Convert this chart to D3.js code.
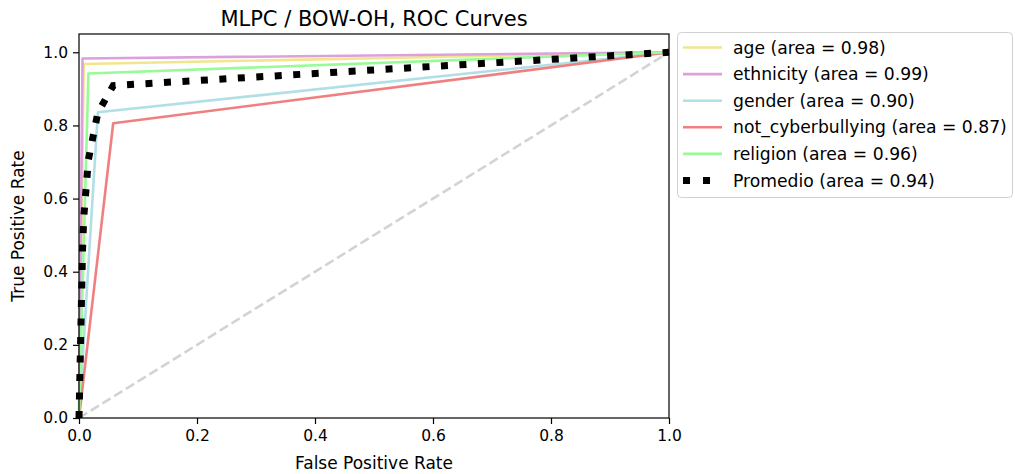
<!DOCTYPE html>
<html>
<head>
<meta charset="utf-8">
<script src="https://cdn.jsdelivr.net/npm/d3@7"></script>
<style>
  html, body { margin: 0; padding: 0; background: #fff; }
  text { font-family: "DejaVu Sans", sans-serif; fill: #000; }
</style>
</head>
<body>
<svg id="chart" width="1015" height="474"></svg>
<script>
// ROC operating points per class: [fpr, tpr] from (0,0) to (1,1)
const classNames = ["age", "ethnicity", "gender", "not_cyberbullying", "religion"];
const classAuc = [0.98, 0.99, 0.90, 0.87, 0.96];
const classColors = ["#f0e68c", "#dda0dd", "#b0e0e6", "#f08080", "#98fb98"];
const rocAge = [[0, 0], [0.008, 0.968], [1, 1]];
const rocEthnicity = [[0, 0], [0.006, 0.983], [1, 1]];
const rocGender = [[0, 0], [0.032, 0.836], [1, 1]];
const rocNotCyber = [[0, 0], [0.058, 0.806], [1, 1]];
const rocReligion = [[0, 0], [0.016, 0.942], [1, 1]];
// macro-average curve
const rocMean = [[0, 0], [0.006, 0.46], [0.008, 0.548], [0.016, 0.707], [0.032, 0.835], [0.058, 0.909], [1, 1]];
const meanLabel = "Promedio";
const meanAuc = 0.94;
const xTicks = [0, 0.2, 0.4, 0.6, 0.8, 1.0];
const yTicks = [0, 0.2, 0.4, 0.6, 0.8, 1.0];

const curves = [rocAge, rocEthnicity, rocGender, rocNotCyber, rocReligion];

const svg = d3.select("#chart");
const m = { left: 79, right: 669, top: 34, bottom: 418 };

const x = d3.scaleLinear().domain([0, 1]).range([m.left, m.right]);
const y = d3.scaleLinear().domain([0, 1.05]).range([m.bottom, m.top]);

const line = d3.line().x(d => x(d[0])).y(d => y(d[1]));

const plot = svg.append("g");

// per-class curves
curves.forEach((c, i) => {
  plot.append("path")
    .attr("d", line(c))
    .attr("fill", "none")
    .attr("stroke", classColors[i])
    .attr("stroke-width", 2.6)
    .attr("stroke-linejoin", "round");
});

// chance diagonal
plot.append("path")
  .attr("d", line([[0, 0], [1, 1]]))
  .attr("fill", "none")
  .attr("stroke", "#d3d3d3")
  .attr("stroke-width", 2.6)
  .attr("stroke-dasharray", "9.6,4.2");

// macro average, dotted
plot.append("path")
  .attr("d", line(rocMean))
  .attr("fill", "none")
  .attr("stroke", "#000")
  .attr("stroke-width", 7)
  .attr("stroke-dasharray", "7,11.5");

// frame
svg.append("rect")
  .attr("x", m.left).attr("y", m.top)
  .attr("width", m.right - m.left).attr("height", m.bottom - m.top)
  .attr("fill", "none").attr("stroke", "#000").attr("stroke-width", 1.2);

// axes
const fmt = d3.format(".1f");
const xAxis = svg.append("g")
  .attr("transform", `translate(0,${m.bottom})`)
  .call(d3.axisBottom(x).tickValues(xTicks).tickFormat(fmt).tickSize(6).tickPadding(6));
const yAxis = svg.append("g")
  .attr("transform", `translate(${m.left},0)`)
  .call(d3.axisLeft(y).tickValues(yTicks).tickFormat(fmt).tickSize(6).tickPadding(5));
[xAxis, yAxis].forEach(a => {
  a.select(".domain").remove();
  a.selectAll(".tick line").attr("stroke", "#000").attr("stroke-width", 1.2);
  a.selectAll(".tick text")
    .attr("font-family", "DejaVu Sans")
    .attr("font-size", 15.5)
    .attr("fill", "#000");
});

// title and axis labels
svg.append("text")
  .attr("x", (m.left + m.right) / 2).attr("y", 26)
  .attr("text-anchor", "middle").attr("font-size", 21)
  .text("MLPC / BOW-OH, ROC Curves");
svg.append("text")
  .attr("x", (m.left + m.right) / 2).attr("y", 469)
  .attr("text-anchor", "middle").attr("font-size", 17)
  .text("False Positive Rate");
svg.append("text")
  .attr("transform", `translate(24,${(m.top + m.bottom) / 2}) rotate(-90)`)
  .attr("text-anchor", "middle").attr("font-size", 17)
  .text("True Positive Rate");

// legend
const legendItems = classNames.map((n, i) => ({
  label: `${n} (area = ${classAuc[i].toFixed(2)})`, color: classColors[i], dotted: false
})).concat([{ label: `${meanLabel} (area = ${meanAuc.toFixed(2)})`, color: "#000", dotted: true }]);

const lg = svg.append("g");
lg.append("rect")
  .attr("x", 677.5).attr("y", 32.5).attr("width", 335).attr("height", 165)
  .attr("rx", 4).attr("ry", 4)
  .attr("fill", "#fff").attr("stroke", "#d0d0d0").attr("stroke-width", 1);

const rowY = d3.scaleLinear().domain([0, 5]).range([47.5, 180.5]);
legendItems.forEach((d, i) => {
  const yy = rowY(i);
  lg.append("line")
    .attr("x1", 683).attr("x2", 722).attr("y1", yy).attr("y2", yy)
    .attr("stroke", d.color)
    .attr("stroke-width", d.dotted ? 7 : 2.6)
    .attr("stroke-dasharray", d.dotted ? "7,13" : null);
  lg.append("text")
    .attr("x", 733).attr("y", yy + 6)
    .attr("font-size", 17.2)
    .text(d.label);
});
</script>
</body>
</html>
